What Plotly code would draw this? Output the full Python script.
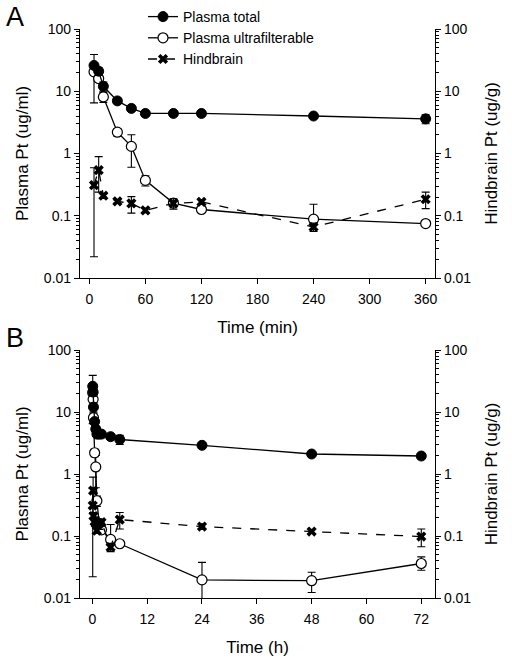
import plotly.graph_objects as go

# ---------------- Panel A data (time in minutes) ----------------
time_min = [5, 10, 15, 30, 45, 60, 90, 120, 240, 360]
total_A = [26, 21, 12, 7.0, 5.3, 4.4, 4.4, 4.4, 4.0, 3.6]
total_A_plus = [13, 3, 2, 0.5, 0.4, 0.3, 0.3, 0.3, 0.3, 0.6]
total_A_minus = [3, 3, 2, 0.5, 0.4, 0.3, 0.3, 0.3, 0.3, 0.6]
uf_A = [20.5, 16, 8.1, 2.2, 1.3, 0.37, 0.16, 0.126, 0.088, 0.075]
uf_A_plus = [2, 2, 1.5, 0.3, 0.7, 0.07, 0.02, 0.01, 0.065, 0.005]
uf_A_minus = [14, 2, 1.5, 0.3, 0.7, 0.07, 0.02, 0.01, 0.01, 0.005]
hb_A = [0.31, 0.54, 0.21, 0.17, 0.158, 0.122, 0.158, 0.167, 0.066, 0.184]
hb_A_plus = [0.28, 0.35, 0.02, 0.01, 0.045, 0.01, 0.03, 0.015, 0.01, 0.056]
hb_A_minus = [0.288, 0.3, 0.02, 0.01, 0.048, 0.01, 0.03, 0.015, 0.01, 0.054]

# ---------------- Panel B data (time in hours) ----------------
time_h = [0.083, 0.167, 0.25, 0.5, 0.75, 1, 1.5, 2, 4, 6, 24, 48, 72]
total_B = [26, 21, 12, 7.0, 5.3, 4.4, 4.4, 4.4, 4.0, 3.6, 2.9, 2.1, 1.95]
total_B_plus = [13, 3, 2, 0.5, 0.4, 0.3, 0.3, 0.3, 0.3, 0.6, 0.3, 0.15, 0.2]
total_B_minus = [3, 3, 2, 0.5, 0.4, 0.3, 0.3, 0.3, 0.3, 0.6, 0.3, 0.15, 0.2]
uf_B = [20.5, 16, 8.1, 2.2, 1.3, 0.37, 0.16, 0.126, 0.088, 0.075, 0.0196, 0.019, 0.036]
uf_B_plus = [2, 2, 1.5, 0.3, 0.7, 0.07, 0.02, 0.01, 0.065, 0.005, 0.018, 0.007, 0.01]
uf_B_minus = [14, 2, 1.5, 0.3, 0.7, 0.07, 0.02, 0.01, 0.01, 0.005, 0.0146, 0.0067, 0.008]
hb_B = [0.31, 0.54, 0.21, 0.17, 0.158, 0.122, 0.158, 0.167, 0.066, 0.184, 0.142, 0.118, 0.098]
hb_B_plus = [0.28, 0.35, 0.02, 0.01, 0.045, 0.01, 0.03, 0.015, 0.01, 0.056, 0.015, 0.008, 0.032]
hb_B_minus = [0.288, 0.3, 0.02, 0.01, 0.048, 0.01, 0.03, 0.015, 0.01, 0.054, 0.015, 0.008, 0.031]

x_ticks_A = [0, 60, 120, 180, 240, 300, 360]
x_ticks_B = [0, 12, 24, 36, 48, 60, 72]
y_ticks = [0.01, 0.1, 1, 10, 100]
y_tick_text = ["0.01", "0.1", "1", "10", "100"]
y_minor_mult = [2, 3, 4, 5, 6, 7, 8, 9]

FONT = "Liberation Sans, Arial, sans-serif"
BLACK = "black"

minor_vals = [m * d for d in [0.01, 0.1, 1, 10] for m in y_minor_mult]


def err(plus, minus):
    return dict(type="data", symmetric=False, array=plus, arrayminus=minus,
                color=BLACK, thickness=1.1, width=4)


fig = go.Figure()


def add_panel(x, tot, tp, tm, uf, up, um, hb, hp, hm, xa, ya_l, ya_r, show):
    fig.add_trace(go.Scatter(
        x=x, y=hb, xaxis=xa, yaxis=ya_r, name="Hindbrain", mode="lines+markers",
        line=dict(color=BLACK, width=1.3, dash="dash"),
        marker=dict(symbol="x", size=9, color=BLACK),
        error_y=err(hp, hm), showlegend=show, legendrank=3))
    fig.add_trace(go.Scatter(
        x=x, y=uf, xaxis=xa, yaxis=ya_l, name="Plasma ultrafilterable", mode="lines+markers",
        line=dict(color=BLACK, width=1.3),
        marker=dict(symbol="circle", size=10, color="white", line=dict(color=BLACK, width=1.2)),
        error_y=err(up, um), showlegend=show, legendrank=2))
    fig.add_trace(go.Scatter(
        x=x, y=tot, xaxis=xa, yaxis=ya_l, name="Plasma total", mode="lines+markers",
        line=dict(color=BLACK, width=1.3),
        marker=dict(symbol="circle", size=10, color=BLACK, line=dict(color=BLACK, width=1)),
        error_y=err(tp, tm), showlegend=show, legendrank=1))


add_panel(time_min, total_A, total_A_plus, total_A_minus, uf_A, uf_A_plus, uf_A_minus,
          hb_A, hb_A_plus, hb_A_minus, "x", "y", "y2", True)
add_panel(time_h, total_B, total_B_plus, total_B_minus, uf_B, uf_B_plus, uf_B_minus,
          hb_B, hb_B_plus, hb_B_minus, "x2", "y3", "y4", False)

W, H = 512, 666
ML, MR, MT, MB = 80, 77, 10, 10
ph = H - MT - MB
pw = W - ML - MR


def dom(top_px, bot_px):
    return [(H - MB - bot_px) / ph, (H - MB - top_px) / ph]


def px_to_paper(px_x, px_y):
    return (px_x - ML) / pw, (H - MB - px_y) / ph


domA = dom(29, 278)
domB = dom(350, 598)

axis_common = dict(showline=True, linecolor=BLACK, linewidth=1.2, ticks="outside",
                   tickcolor=BLACK, ticklen=5, tickwidth=1.1, showgrid=False, zeroline=False,
                   automargin=False,
                   tickfont=dict(family=FONT, size=14, color=BLACK))

xaxis_common = dict(axis_common, ticklabelstandoff=3)

yaxis_common = dict(axis_common, type="log", range=[-2, 2], tickvals=y_ticks, ticktext=y_tick_text,
                    minor=dict(ticks="outside", ticklen=3, tickcolor=BLACK, tickwidth=0.8,
                               showgrid=False, tickvals=minor_vals))

title_font = dict(family=FONT, size=17, color=BLACK)

lx, ly = px_to_paper(143, 1)

fig.update_layout(
    width=W, height=H,
    margin=dict(l=ML, r=MR, t=MT, b=MB, autoexpand=False),
    paper_bgcolor="white", plot_bgcolor="white",
    showlegend=True,
    legend=dict(x=lx, y=ly, xanchor="left", yanchor="top", bgcolor="rgba(0,0,0,0)",
                font=dict(family=FONT, size=14, color=BLACK), tracegroupgap=0,
                itemwidth=30),
    xaxis=dict(xaxis_common, domain=[0, 1], range=[-10, 370], tickvals=x_ticks_A, anchor="y",
               title=dict(text="Time (min)", font=title_font, standoff=15)),
    yaxis=dict(yaxis_common, domain=domA, anchor="x",
               title=dict(text="Plasma Pt (ug/ml)", font=title_font, standoff=10)),
    yaxis2=dict(yaxis_common, domain=domA, anchor="x", overlaying="y", side="right",
                title=dict(text="Hindbrain Pt (ug/g)", font=title_font, standoff=14)),
    xaxis2=dict(xaxis_common, domain=[0, 1], range=[-2.7, 75], tickvals=x_ticks_B, anchor="y3",
                title=dict(text="Time (h)", font=title_font, standoff=15)),
    yaxis3=dict(yaxis_common, domain=domB, anchor="x2",
                title=dict(text="Plasma Pt (ug/ml)", font=title_font, standoff=10)),
    yaxis4=dict(yaxis_common, domain=domB, anchor="x2", overlaying="y3", side="right",
                title=dict(text="Hindbrain Pt (ug/g)", font=title_font, standoff=14)),
)

ax, ay = px_to_paper(15, 17)
bx, by = px_to_paper(15, 338)
fig.add_annotation(text="A", x=ax, y=ay, xref="paper", yref="paper", showarrow=False,
                   xanchor="center", yanchor="middle",
                   font=dict(family=FONT, size=27, color=BLACK))
fig.add_annotation(text="B", x=bx, y=by, xref="paper", yref="paper", showarrow=False,
                   xanchor="center", yanchor="middle",
                   font=dict(family=FONT, size=27, color=BLACK))

fig.write_html("out.html", config={"displayModeBar": False},
               post_script="document.body.style.margin='0px';document.body.style.padding='0px';")
